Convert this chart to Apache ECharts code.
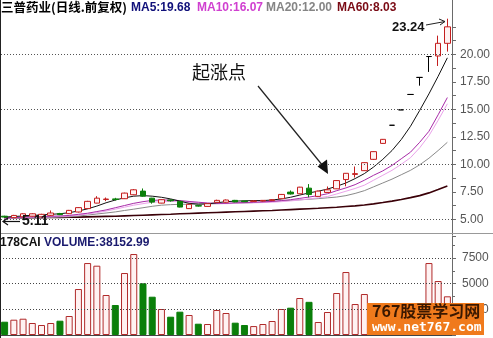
<!DOCTYPE html>
<html><head><meta charset="utf-8">
<script src="https://cdn.jsdelivr.net/npm/echarts@6/dist/echarts.min.js"></script>
<style>html,body{margin:0;padding:0;background:#fff}#c{width:493px;height:338px}</style>
</head><body><div id="c"></div>
<script>
const categories = ['1','2','3','4','5','6','7','8','9','10','11','12','13','14','15','16','17','18','19','20','21','22','23','24','25','26','27','28','29','30','31','32','33','34','35','36','37','38','39','40','41','42','43','44','45','46','47','48','49'];
const opens  = [5.28,5.15,5.22,5.28,5.22,5.36,5.52,5.51,5.66,5.97,6.47,6.80,6.85,6.87,7.23,7.56,6.92,6.47,6.75,6.63,5.97,6.24,6.17,6.54,6.55,6.72,6.66,6.63,6.66,6.70,6.87,7.47,7.32,7.83,7.08,7.44,7.77,8.61,9.08,9.42,10.45,11.90,13.55,14.95,16.35,17.90,19.80,19.85,21.00];
const closes = [5.20,5.35,5.50,5.50,5.45,5.57,5.42,5.81,6.06,6.63,6.92,6.84,6.80,7.38,7.68,7.10,6.56,6.78,6.68,6.11,6.36,6.20,6.42,6.72,6.75,6.58,6.60,6.67,6.72,6.78,7.26,7.30,7.92,7.26,7.56,7.68,8.52,9.18,9.15,10.15,11.15,12.27,13.55,14.95,16.35,17.90,19.80,21.00,22.50];
const lows   = [5.11,5.12,5.20,5.25,5.20,5.30,5.38,5.48,5.62,5.95,6.45,6.65,6.70,6.85,7.20,7.05,6.42,6.45,6.60,6.08,5.95,6.15,6.15,6.50,6.52,6.55,6.55,6.58,6.62,6.68,6.85,7.25,7.30,7.00,7.05,7.40,7.75,8.00,8.80,9.40,10.40,11.85,13.55,14.95,16.35,17.15,18.40,18.94,20.25];
const highs  = [5.32,5.40,5.55,5.55,5.50,5.80,5.58,5.85,6.10,6.68,7.10,6.98,6.95,7.42,7.75,7.80,6.95,6.82,6.80,6.66,6.40,6.30,6.45,6.78,6.80,6.76,6.70,6.72,6.75,6.82,7.30,7.62,7.95,8.20,7.60,7.98,8.55,9.20,9.80,10.18,11.18,12.30,13.55,14.95,16.35,17.90,19.80,21.70,23.24];
const volumes = [1295,1490,1587,1168,974,1168,1392,1850,4479,7010,6750,3895,2921,6037,7887,5034,3730,2532,1782,2270,1947,1100,1071,2434,2142,1200,974,870,1071,1363,2532,2660,3603,3230,1266,2240,4090,6134,3018,3992,2900,2600,500,400,600,1800,7010,5258,3768];
const ma5  = [5.20,5.25,5.30,5.35,5.40,5.45,5.50,5.60,5.75,5.95,6.20,6.50,6.75,6.95,7.10,7.15,7.10,7.00,6.85,6.65,6.45,6.38,6.40,6.50,6.60,6.65,6.68,6.70,6.70,6.75,6.85,7.00,7.20,7.40,7.55,7.75,8.00,8.30,8.70,9.15,9.75,10.45,11.25,12.25,13.45,14.90,16.40,18.00,19.68];
const ma10 = [5.10,5.15,5.20,5.22,5.25,5.28,5.30,5.35,5.45,5.55,5.70,5.85,6.05,6.25,6.45,6.60,6.72,6.75,6.75,6.70,6.62,6.55,6.48,6.45,6.45,6.50,6.52,6.55,6.58,6.62,6.70,6.78,6.90,7.02,7.15,7.32,7.60,7.85,8.15,8.55,9.00,9.40,9.90,10.50,11.10,12.00,13.00,14.50,16.07];
const maPink = [5.08,5.12,5.15,5.18,5.20,5.22,5.25,5.30,5.38,5.48,5.60,5.75,5.92,6.10,6.28,6.42,6.55,6.60,6.62,6.60,6.55,6.50,6.45,6.42,6.42,6.44,6.47,6.50,6.52,6.55,6.60,6.67,6.75,6.85,6.95,7.07,7.30,7.55,7.80,8.10,8.55,9.00,9.45,10.00,10.60,11.50,12.60,14.00,15.50];
const ma20 = [5.05,5.08,5.10,5.12,5.15,5.18,5.20,5.23,5.30,5.38,5.48,5.57,5.67,5.80,5.92,6.05,6.18,6.28,6.33,6.36,6.37,6.38,6.40,6.42,6.44,6.46,6.48,6.52,6.56,6.62,6.67,6.72,6.77,6.82,6.88,6.95,7.02,7.15,7.35,7.60,7.95,8.30,8.65,9.05,9.45,9.95,10.55,11.25,12.00];
const ma60 = [5.12,5.12,5.13,5.14,5.15,5.16,5.17,5.18,5.20,5.22,5.24,5.26,5.28,5.31,5.34,5.37,5.40,5.43,5.46,5.50,5.53,5.56,5.59,5.62,5.65,5.68,5.71,5.74,5.77,5.80,5.84,5.88,5.92,5.96,6.00,6.05,6.10,6.16,6.22,6.30,6.40,6.52,6.65,6.80,6.97,7.15,7.40,7.70,8.03];
const priceLabels = [5, 7.5, 10, 12.5, 15, 17.5, 20];
const priceTicks = [5, 6.25, 7.5, 8.75, 10, 11.25, 12.5, 13.75, 15, 16.25, 17.5, 18.75, 20, 21.25, 22.5];
const priceGridLines = [5, 10, 15, 20];
const volLabels = [2500, 5000, 7500];

const PRICE_MIN = 3.57, PRICE_MAX = 24.94;
const MAIN_GRID = { left: -1, width: 453, top: 0, height: 235 };

const UP_BORDER = '#c41e1e', UP_FILL = '#fff2f2', DOWN = '#0a7f0a';
const candleData = opens.map((o, i) => {
  const v = [o, closes[i], lows[i], highs[i]];
  if (o === closes[i]) return { value: v, itemStyle: { color: '#000', color0: '#000', borderColor: '#000', borderColor0: '#000' } };
  return v;
});
const volData = volumes.map((v, i) => closes[i] >= opens[i]
  ? { value: v, itemStyle: { color: UP_FILL, borderColor: '#b02a2a', borderWidth: 1 } }
  : { value: v, itemStyle: { color: DOWN, borderColor: DOWN, borderWidth: 1 } });

const chart = echarts.init(document.getElementById('c'), null, { renderer: 'canvas' });
const FONT = '"Liberation Sans", Arial, sans-serif';
const CJK = '"Noto Sans CJK SC", sans-serif';
const DOT = { type: [1, 2], color: '#444', width: 1 };
function line(name, data, color, width) {
  return { name, type: 'line', xAxisIndex: 0, yAxisIndex: 0, data, showSymbol: false, symbol: 'none',
    lineStyle: { color, width: width || 1 }, silent: true, z: 2 };
}
const hiddenX = { axisLine: { show: false }, axisTick: { show: false }, axisLabel: { show: false }, splitLine: { show: false } };

// y of a price on the main price axis (same linear scale as yAxis 0)
function priceToY(v) {
  let y = NaN;
  try { y = chart.convertToPixel({ yAxisIndex: 0 }, v); } catch (e) { y = NaN; }
  if (!isFinite(y)) y = MAIN_GRID.top + (PRICE_MAX - v) / (PRICE_MAX - PRICE_MIN) * MAIN_GRID.height;
  return Math.round(y) + 0.5;
}

const staticGraphics = [
  { type: 'line', z: 50, shape: { x1: 0, y1: 233.5, x2: 493, y2: 233.5 }, style: { stroke: '#999', lineWidth: 1 } },
  { type: 'line', z: 50, shape: { x1: 0.5, y1: 0, x2: 0.5, y2: 338 }, style: { stroke: '#222', lineWidth: 1 } },
  { type: 'text', z: 50, x: 1, y: 1, style: { text: '三普药业(日线.前复权)', font: 'bold 12.5px ' + CJK, fill: '#000' } },
  { type: 'text', z: 50, x: 131, y: 2, style: { text: 'MA5:19.68', font: 'bold 12px ' + FONT, fill: '#10107a' } },
  { type: 'text', z: 50, x: 197, y: 2, style: { text: 'MA10:16.07', font: 'bold 12px ' + FONT, fill: '#d040d0' } },
  { type: 'text', z: 50, x: 266, y: 2, style: { text: 'MA20:12.00', font: 'bold 12px ' + FONT, fill: '#858585' } },
  { type: 'text', z: 50, x: 337, y: 2, style: { text: 'MA60:8.03', font: 'bold 12px ' + FONT, fill: '#7a0a14' } },
  { type: 'text', z: 50, x: 0, y: 237, style: { text: '{a|178CAI }{b|VOLUME:38152.99}', font: 'bold 12px ' + FONT,
    rich: { a: { fill: '#111', font: 'bold 12px ' + FONT }, b: { fill: '#1a1a6e', font: 'bold 12px ' + FONT } } } },
  { type: 'text', z: 50, x: 192, y: 63, style: { text: '起涨点', font: '18px ' + CJK, fill: '#111' } },
  { type: 'line', z: 50, shape: { x1: 258, y1: 86, x2: 323, y2: 166 }, style: { stroke: '#222', lineWidth: 1.2 } },
  { type: 'polygon', z: 50, shape: { points: [[328, 174], [317.5, 166.5], [327, 159.5]] }, style: { fill: '#111' } },
  { type: 'text', z: 50, x: 392, y: 21, style: { text: '23.24', font: 'bold 13px ' + FONT, fill: '#111' } },
  { type: 'line', z: 50, shape: { x1: 426, y1: 25, x2: 445, y2: 21.5 }, style: { stroke: '#222', lineWidth: 1 } },
  { type: 'polyline', z: 50, shape: { points: [[439, 19], [445, 21.5], [440, 25]] }, style: { stroke: '#222', lineWidth: 1, fill: null } },
  { type: 'line', z: 50, shape: { x1: 3, y1: 221.5, x2: 20, y2: 221.5 }, style: { stroke: '#111', lineWidth: 1.2 } },
  { type: 'polyline', z: 50, shape: { points: [[8, 218], [3, 221.5], [8, 225]] }, style: { stroke: '#111', lineWidth: 1.2, fill: null } },
  { type: 'text', z: 50, x: 22, y: 214, style: { text: '5.11', font: 'bold 14px ' + FONT, fill: '#111' } },
  { type: 'rect', z: 60, shape: { x: 367, y: 303, width: 117, height: 32 }, style: { fill: '#f07a1c' } },
  { type: 'text', z: 61, x: 372, y: 303, style: { text: '767股票学习网', font: 'bold 16px ' + CJK, fill: '#3a1800' } },
  { type: 'text', z: 61, x: 372, y: 321, style: { text: 'www.net767.com', font: 'bold 13px "DejaVu Sans Mono", monospace', fill: '#fff' } }
];

chart.setOption({
  animation: false,
  backgroundColor: '#fff',
  grid: [
    MAIN_GRID,
    { left: -1, width: 453, top: 236, height: 99 }
  ],
  xAxis: [
    Object.assign({ type: 'category', gridIndex: 0, data: categories, boundaryGap: true }, hiddenX),
    { type: 'category', gridIndex: 1, data: categories, boundaryGap: true,
      axisLine: { show: true, lineStyle: { color: '#444' } }, axisTick: { show: false }, axisLabel: { show: false }, splitLine: { show: false } }
  ],
  yAxis: [
    { type: 'value', gridIndex: 0, position: 'right', min: PRICE_MIN, max: PRICE_MAX,
      axisLine: { show: true, lineStyle: { color: '#6a6a6a' } },
      axisTick: { show: true, length: 4, customValues: priceTicks, lineStyle: { color: '#6a6a6a' } },
      axisLabel: { customValues: priceLabels, formatter: v => Number(v).toFixed(2), color: '#555', fontSize: 12, fontFamily: FONT, margin: 8 },
      splitLine: { show: false } },
    { type: 'value', gridIndex: 1, position: 'right', min: 0, max: 9643, interval: 2500,
      axisLine: { show: true, lineStyle: { color: '#6a6a6a' } },
      axisTick: { show: true, length: 4, lineStyle: { color: '#6a6a6a' } },
      minorTick: { show: true, splitNumber: 2, length: 3, lineStyle: { color: '#6a6a6a' } },
      axisLabel: { customValues: volLabels, formatter: v => String(v), color: '#555', fontSize: 12, fontFamily: FONT, margin: 10 },
      splitLine: { show: false } }
  ],
  series: [
    line('MA60', ma60, '#3a0008', 1.6),
    line('MA20', ma20, '#8a8a8a'),
    line('MAP', maPink, '#eaa2ea'),
    line('MA10', ma10, '#a82aa8'),
    line('MA5', ma5, '#111'),
    { name: 'K', type: 'candlestick', xAxisIndex: 0, yAxisIndex: 0, data: candleData, barWidth: 6, z: 3,
      itemStyle: { color: UP_FILL, color0: DOWN, borderColor: UP_BORDER, borderColor0: DOWN, borderColorDoji: '#000', borderWidth: 1 } },
    { name: 'VOL', type: 'bar', xAxisIndex: 1, yAxisIndex: 1, data: volData, barWidth: 7,
      markLine: { silent: true, symbol: 'none', label: { show: false }, lineStyle: DOT,
        data: volLabels.map(v => ({ yAxis: v })) } }
  ],
  graphic: staticGraphics
});

// dotted price gridlines, placed on the price scale, drawn on top
const gridLineGraphics = priceGridLines.map(v => {
  const y = priceToY(v);
  return { type: 'line', z: 40, silent: true,
    shape: { x1: 1, y1: y, x2: 452, y2: y },
    style: { stroke: '#555', lineWidth: 1, lineDash: [1, 2] } };
});
chart.setOption({ graphic: { elements: staticGraphics.concat(gridLineGraphics) } }, { replaceMerge: ['graphic'] });
</script></body></html>
